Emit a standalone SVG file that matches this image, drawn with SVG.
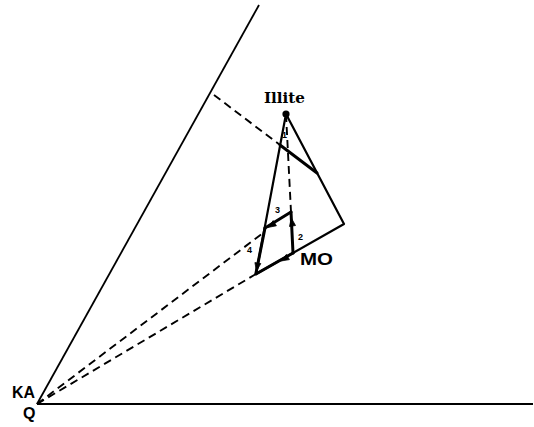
<svg xmlns="http://www.w3.org/2000/svg" width="534" height="427" viewBox="0 0 534 427">
<style>
.ax{stroke:#000;stroke-width:1.8;fill:none}
.sol{stroke:#000;stroke-width:2.2;fill:none;stroke-linejoin:round}
.thk{stroke:#000;stroke-width:3;fill:none;stroke-linecap:round}
.dash{stroke:#000;stroke-width:1.9;fill:none;stroke-dasharray:8 5}
.ah{fill:#000;stroke:#000;stroke-width:0.8;stroke-linejoin:round}
.lbl{font-family:"Liberation Sans",Arial,sans-serif;font-weight:bold;fill:#000}
.num{font-family:"Liberation Sans",Arial,sans-serif;font-weight:bold;font-size:9px;fill:#000}
</style>
<g id="connectors">
<line class="ax" x1="37" y1="404" x2="533" y2="404"/>
<line class="ax" x1="37" y1="404" x2="259" y2="5"/>
<line class="dash" x1="214" y1="95" x2="280" y2="145"/>
<line class="dash" x1="286" y1="114" x2="291" y2="212"/>
<line class="dash" x1="37" y1="404" x2="263" y2="233"/>
<line class="dash" x1="37" y1="404" x2="256" y2="274"/>
<polygon class="sol" points="286,114 344,224 256,274"/>
<line class="thk" x1="280" y1="145" x2="317" y2="173"/>
<line class="thk" x1="293" y1="253" x2="291" y2="212"/>
<line class="thk" x1="291" y1="212" x2="265" y2="228"/>
<line class="thk" x1="265" y1="228" x2="256" y2="273"/>
<line class="thk" x1="293" y1="253" x2="256" y2="274"/>
<polygon class="ah" points="291.3,218 295.5,225.5 289.5,226.5"/>
<polygon class="ah" points="268,227.4 276.4,225.8 273.2,220.6"/>
<polygon class="ah" points="256.5,271 260.8,263.6 254.9,262.6"/>
<polygon class="ah" points="281,261 289.4,259.6 286.4,254.4"/>
</g>
<g id="illite">
<circle cx="286" cy="114" r="3.6" fill="#000"/>
<text x="264" y="103" font-family="'DejaVu Serif',serif" font-weight="bold" font-size="15" textLength="41" lengthAdjust="spacingAndGlyphs">Illite</text>
</g>
<g id="mo">
<text class="lbl" x="300" y="265" font-size="16" textLength="33" lengthAdjust="spacingAndGlyphs">MO</text>
</g>
<g id="ka-q">
<text class="lbl" x="12" y="398" font-size="16" textLength="23" lengthAdjust="spacingAndGlyphs">KA</text>
<text class="lbl" x="23" y="419" font-size="16">Q</text>
</g>
<g id="numbers">
<text class="num" x="282" y="138">1</text>
<text class="num" x="298" y="240">2</text>
<text class="num" x="275" y="213">3</text>
<text class="num" x="247" y="253">4</text>
</g>
</svg>
